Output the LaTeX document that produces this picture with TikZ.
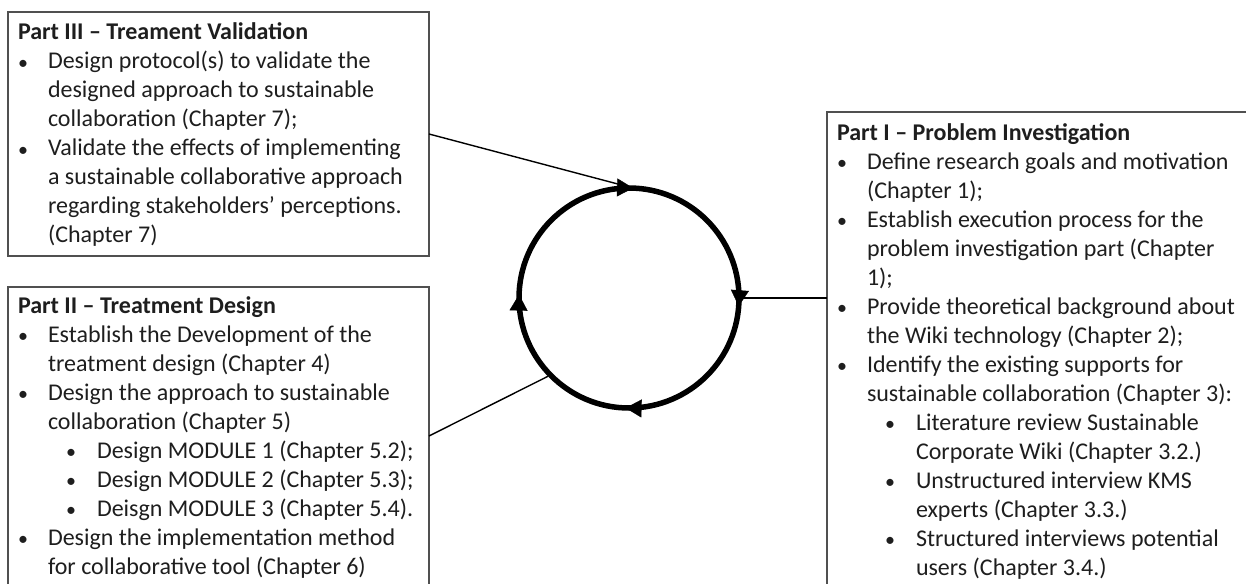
\documentclass[tikz,border=0pt]{standalone}
\usepackage{fontspec}
\setmainfont{Carlito}
\usetikzlibrary{decorations.markings,arrows.meta}
\definecolor{txt}{HTML}{1E1E1E}
\definecolor{frame}{HTML}{505050}
\newcommand\Bul{\raisebox{-0.3pt}{\fontsize{20}{20}\selectfont •}}
\newcommand\Lb[1]{\makebox[30pt][l]{\Bul}#1}
\newcommand\Lc[1]{\hspace*{30pt}#1}
\newcommand\Ls[1]{\hspace*{48pt}\makebox[31pt][l]{\Bul}#1}
\newcommand\Lt[1]{\hspace*{79pt}#1}
\newcommand\Ttl[1]{\textbf{#1}}
\tikzset{
  x=1pt,y=-1pt,
  box/.style={draw=frame,line width=1.4pt,rectangle,inner sep=0pt,outer sep=0pt,anchor=north west},
  txtblock/.style={anchor=base west,inner sep=0pt,outer sep=0pt,text=txt},
  link/.style={draw=black,line width=1.4pt},
}
\newcommand\Blk[2]{\parbox[t]{#1}{\fontsize{24}{29}\selectfont\setlength\parindent{0pt}#2}}
\begin{document}
\begin{tikzpicture}
\useasboundingbox (0,0) rectangle (1246,583);
\clip (0,0) rectangle (1246,583);
% boxes
\node[box,minimum width=421pt,minimum height=244pt] (p3) at (8,12) {};
\node[box,minimum width=421pt,minimum height=298pt] (p2) at (8,287) {};
\node[box,minimum width=440pt,minimum height=500pt] (p1) at (827,112) {};
% texts
\node[txtblock] (t3) at (18,40) {\Blk{420pt}{%
\Ttl{Part III – Treament Validation}\\
\Lb{Design protocol(s) to validate the}\\
\Lc{designed approach to sustainable}\\
\Lc{collaboration (Chapter 7);}\\
\Lb{Validate the effects of implementing}\\
\Lc{a sustainable collaborative approach}\\
\Lc{regarding stakeholders’ perceptions.}\\
\Lc{(Chapter 7)}}};
\node[txtblock] (t2) at (18,313) {\Blk{420pt}{%
\Ttl{Part II – Treatment Design}\\
\Lb{Establish the Development of the}\\
\Lc{treatment design (Chapter 4)}\\
\Lb{Design the approach to sustainable}\\
\Lc{collaboration (Chapter 5)}\\
\Ls{Design MODULE 1 (Chapter 5.2);}\\
\Ls{Design MODULE 2 (Chapter 5.3);}\\
\Ls{Deisgn MODULE 3 (Chapter 5.4).}\\
\Lb{Design the implementation method}\\
\Lc{for collaborative tool (Chapter 6)}}};
\node[txtblock] (t1) at (837,140) {\Blk{420pt}{%
\Ttl{Part I – Problem Investigation}\\
\Lb{Define research goals and motivation}\\
\Lc{(Chapter 1);}\\
\Lb{Establish execution process for the}\\
\Lc{problem investigation part (Chapter}\\
\Lc{1);}\\
\Lb{Provide theoretical background about}\\
\Lc{the Wiki technology (Chapter 2);}\\
\Lb{Identify the existing supports for}\\
\Lc{sustainable collaboration (Chapter 3):}\\
\Ls{Literature review Sustainable}\\
\Lt{Corporate Wiki (Chapter 3.2.)}\\
\Ls{Unstructured interview KMS}\\
\Lt{experts (Chapter 3.3.)}\\
\Ls{Structured interviews potential}\\
\Lt{users (Chapter 3.4.)}}};
% cycle
\node[circle,draw=black,line width=5.5pt,minimum size=220pt,inner sep=0pt] (cyc) at (629,298) {};
\path[decoration={markings,
  mark=at position 0.006 with {\arrow{Triangle[length=16pt,width=18pt]}},
  mark=at position 0.262 with {\arrow{Triangle[length=16pt,width=18pt]}},
  mark=at position 0.505 with {\arrow{Triangle[length=16pt,width=18pt]}},
  mark=at position 0.755 with {\arrow{Triangle[length=16pt,width=18pt]}}},
  postaction=decorate] (cyc.center) ++(0,-110) arc[start angle=270,end angle=630,radius=110];
% connectors
\draw[link] (p3.east) -- (cyc.93);
\draw[link] (p2.east) -- (cyc.224);
\draw[link] (cyc.east) -- (cyc.east -| p1.west);
\end{tikzpicture}
\end{document}
